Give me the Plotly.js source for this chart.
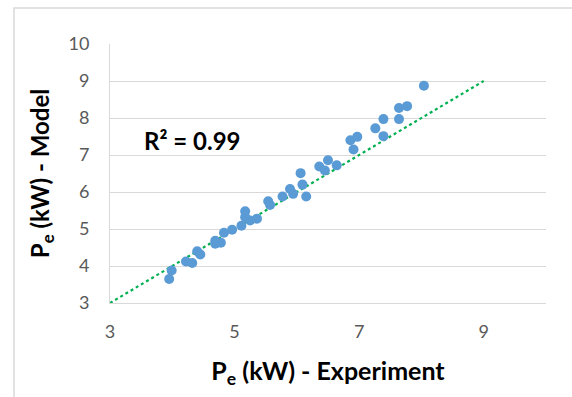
<!DOCTYPE html>
<html>
<head>
<meta charset="utf-8">
<script src="https://cdn.plot.ly/plotly-3.0.1.min.js"></script>
<style>html,body{margin:0;padding:0;background:#fff;}#chart{width:572px;height:397px;}</style>
</head>
<body>
<div id="chart"></div>
<script>
// Data
const experimentX = [3.95, 3.99, 4.22, 4.32, 4.40, 4.45, 4.69, 4.69, 4.78, 4.83,
  4.96, 5.11, 5.17, 5.17, 5.25, 5.36, 5.54, 5.57, 5.77, 5.89,
  5.94, 6.06, 6.09, 6.15, 6.36, 6.45, 6.50, 6.64, 6.86, 6.91,
  6.97, 7.26, 7.39, 7.39, 7.64, 7.64, 7.77, 8.04];
const modelY = [3.65, 3.88, 4.12, 4.08, 4.40, 4.31, 4.68, 4.60, 4.63, 4.90,
  4.98, 5.09, 5.48, 5.32, 5.23, 5.28, 5.75, 5.65, 5.88, 6.08,
  5.95, 6.51, 6.20, 5.88, 6.69, 6.58, 6.86, 6.72, 7.40, 7.15,
  7.49, 7.72, 7.97, 7.51, 7.97, 8.27, 8.32, 8.87];
const refLineX = [3, 9];
const refLineY = [3, 9];
const xTicks = [3, 5, 7, 9];
const yTicks = [3, 4, 5, 6, 7, 8, 9, 10];
const r2Label = 'R² = 0.99';

const font = 'Lato, "Open Sans", sans-serif';

const traces = [
  {
    x: refLineX, y: refLineY, mode: 'lines', type: 'scatter',
    line: {color: '#00B050', width: 2.2, dash: 'dot'},
    hoverinfo: 'skip', showlegend: false
  },
  {
    x: experimentX, y: modelY, mode: 'markers', type: 'scatter',
    marker: {color: '#5B9BD5', size: 10}, showlegend: false
  }
];

const layout = {
  width: 572, height: 397,
  margin: {l: 110, r: 26, t: 44, b: 94},
  paper_bgcolor: '#ffffff', plot_bgcolor: '#ffffff',
  font: {family: font, color: '#595959', size: 18},
  xaxis: {
    range: [3, 10], tickvals: xTicks, ticks: '', showgrid: false, zeroline: false,
    showline: true, linecolor: '#d9d9d9', linewidth: 1,
    ticklabelstandoff: 12,
    tickfont: {family: font, size: 18, color: '#595959'},
    title: {text: '<b>P<sub>e</sub> (kW) - Experiment</b>', standoff: 21,
      font: {family: font, size: 25, color: '#000000'}},
    automargin: false, fixedrange: true
  },
  yaxis: {
    range: [3, 10], tickvals: yTicks, ticks: '', showgrid: true, gridcolor: '#d9d9d9', gridwidth: 1,
    zeroline: false, showline: true, linecolor: '#d9d9d9', linewidth: 1,
    ticklabelstandoff: 16,
    tickfont: {family: font, size: 18, color: '#595959'},
    title: {text: '<b>P<sub>e</sub> (kW) - Model</b>', standoff: 12,
      font: {family: font, size: 24, color: '#000000'}},
    automargin: false, fixedrange: true
  },
  annotations: [{
    xref: 'paper', yref: 'paper', x: (142 - 110) / 436, y: (303 - 140) / 259,
    xanchor: 'left', yanchor: 'middle', showarrow: false,
    text: '<b>' + r2Label + '</b>', font: {family: font, size: 24, color: '#000000'}
  }],
  shapes: [{
    type: 'path', xref: 'paper', yref: 'paper',
    path: 'M -0.2202 -0.4 L -0.2202 1.139 L 1.2 1.139',
    line: {color: '#d9d9d9', width: 1.5}
  }]
};

Plotly.newPlot('chart', traces, layout, {displayModeBar: false, staticPlot: true});
</script>
</body>
</html>
